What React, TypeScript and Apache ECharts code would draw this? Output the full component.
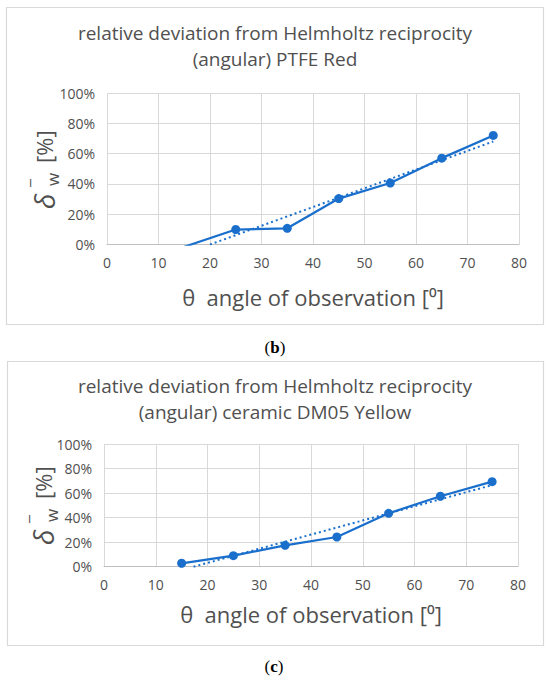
import React, { useEffect, useRef } from "react";
import * as echarts from "echarts";

// ---- data ----
const thetas = [15, 25, 35, 45, 55, 65, 75];
const ptfeRed = [-1.5, 9.9, 10.7, 30.3, 40.6, 57.0, 72.0];
const ceramicYellow = [2.8, 9.0, 17.4, 24.2, 43.5, 57.4, 69.3];
// linear trendline endpoints (visible part)
const trendPtfe = [
  [20, 0],
  [75, 68],
];
const trendCeramic = [
  [17.3, 0],
  [75, 66.5],
];
const titleB = "relative deviation from Helmholtz reciprocity\n(angular) PTFE Red";
const titleC = "relative deviation from Helmholtz reciprocity\n(angular) ceramic DM05 Yellow";
const xName = "θ  angle of observation [⁰]";
const xMin = 0, xMax = 80, xStep = 10;
const yMin = 0, yMax = 100, yStep = 20;

const BLUE = "#1a6fcc";
const GRAY = "#505050";
const GRID = "#d9d9d9";
const FONT = '"Open Sans", "Noto Sans", sans-serif';

function yTitle(cx: number, cy: number) {
  return {
    type: "group",
    x: cx,
    y: cy,
    rotation: Math.PI / 2,
    children: [
      { type: "text", x: -39, y: 0, style: { text: "δ", fontSize: 28, fontStyle: "italic", fontFamily: FONT, fill: GRAY, align: "left", verticalAlign: "middle" } },
      { type: "text", x: -17, y: -6, style: { text: "¯", fontSize: 16, fontFamily: FONT, fill: GRAY, align: "left", verticalAlign: "middle" } },
      { type: "text", x: -16, y: 8, style: { text: "w", fontSize: 17, fontFamily: FONT, fill: GRAY, align: "left", verticalAlign: "middle" } },
      { type: "text", x: 7, y: 0, style: { text: "[%]", fontSize: 22, fontFamily: FONT, fill: GRAY, align: "left", verticalAlign: "middle" } },
    ],
  };
}

function xAxis(gridIndex: number, nameGap: number) {
  return {
    gridIndex,
    type: "value",
    min: xMin,
    max: xMax,
    interval: xStep,
    axisLine: { show: true, lineStyle: { color: "#bfbfbf", width: 1 } },
    axisTick: { show: false },
    splitLine: { show: true, lineStyle: { color: GRID, width: 1 } },
    axisLabel: { color: GRAY, fontSize: 14, margin: 11, fontFamily: FONT },
    name: xName,
    nameLocation: "middle",
    nameGap,
    nameTextStyle: { color: GRAY, fontSize: 22, fontFamily: FONT },
  };
}

function yAxis(gridIndex: number) {
  return {
    gridIndex,
    type: "value",
    min: yMin,
    max: yMax,
    interval: yStep,
    axisLine: { show: false },
    axisTick: { show: false },
    splitLine: { show: true, lineStyle: { color: GRID, width: 1 } },
    axisLabel: { color: GRAY, fontSize: 14, margin: 12, fontFamily: FONT, formatter: "{value}%" },
  };
}

function dataSeries(idx: number, values: number[]) {
  return {
    type: "line",
    xAxisIndex: idx,
    yAxisIndex: idx,
    data: thetas.map((t, i) => [t, values[i]]),
    symbol: (v: number[]) => (v[1] < yMin ? "none" : "circle"),
    symbolSize: 9,
    clip: true,
    lineStyle: { color: BLUE, width: 2.25 },
    itemStyle: { color: BLUE },
    z: 3,
  };
}

function trendSeries(idx: number, pts: number[][]) {
  return {
    type: "line",
    xAxisIndex: idx,
    yAxisIndex: idx,
    data: pts,
    symbol: "none",
    clip: true,
    lineStyle: { color: BLUE, width: 2, type: [2, 3] },
    z: 2,
  };
}

const serif = '"Liberation Serif", "DejaVu Serif", serif';

export default function App() {
  const ref = useRef<HTMLDivElement>(null);
  useEffect(() => {
    if (!ref.current) return;
    const chart = echarts.init(ref.current, null, { renderer: "svg" });
    chart.setOption({
      animation: false,
      backgroundColor: "#ffffff",
      title: [
        { text: titleB, left: "center", top: 15, textStyle: { color: GRAY, fontSize: 19, lineHeight: 26, fontWeight: "normal", fontFamily: FONT } },
        { text: titleC, left: "center", top: 368, textStyle: { color: GRAY, fontSize: 19, lineHeight: 26, fontWeight: "normal", fontFamily: FONT } },
      ],
      grid: [
        { left: 107, right: 31, top: 93, height: 151.5 },
        { left: 104, right: 32, top: 444, height: 122.7 },
      ],
      xAxis: [xAxis(0, 41), xAxis(1, 36)],
      yAxis: [yAxis(0), yAxis(1)],
      series: [
        trendSeries(0, trendPtfe),
        dataSeries(0, ptfeRed),
        trendSeries(1, trendCeramic),
        dataSeries(1, ceramicYellow),
      ],
      graphic: [
        { type: "rect", shape: { x: 6.5, y: 7.5, width: 537, height: 317 }, style: { fill: "none", stroke: GRID, lineWidth: 1.2 } },
        { type: "rect", shape: { x: 7.5, y: 361.5, width: 536, height: 284 }, style: { fill: "none", stroke: GRID, lineWidth: 1.2 } },
        yTitle(44, 170),
        yTitle(43, 506),
        {
          type: "text", x: 275, y: 347,
          style: { text: "({b|b})", fontSize: 17, fontWeight: "normal", fontFamily: serif, fill: "#000", align: "center", verticalAlign: "middle", rich: { b: { fontWeight: "bold", fontSize: 17, fontFamily: serif } } },
        },
        {
          type: "text", x: 274, y: 666,
          style: { text: "({b|c})", fontSize: 17, fontWeight: "normal", fontFamily: serif, fill: "#000", align: "center", verticalAlign: "middle", rich: { b: { fontWeight: "bold", fontSize: 17, fontFamily: serif } } },
        },
      ],
    });
    return () => chart.dispose();
  }, []);
  return (
    <div
      ref={ref}
      style={{ position: "fixed", left: 0, top: 0, width: 550, height: 679, background: "#fff" }}
    />
  );
}
